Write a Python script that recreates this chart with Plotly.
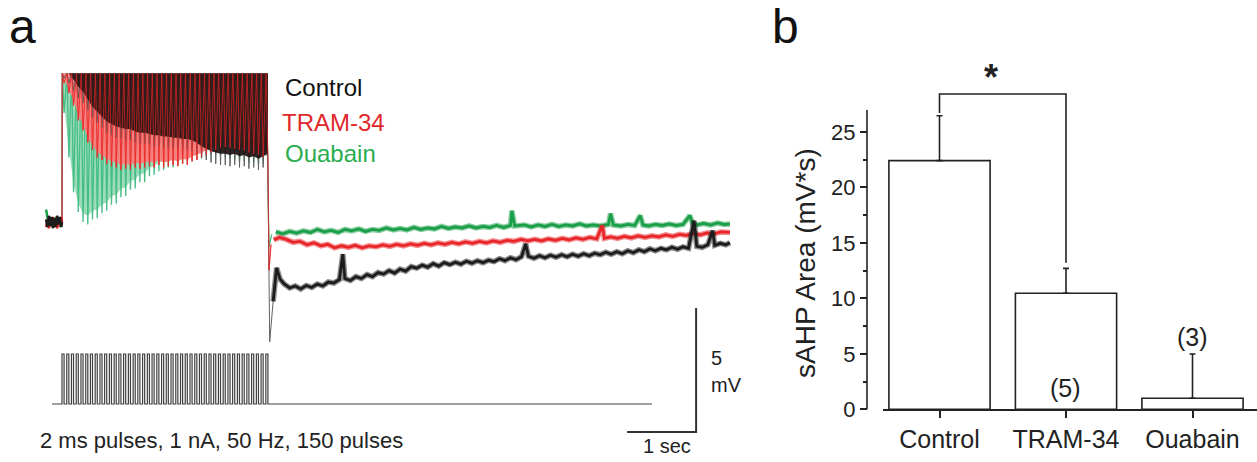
import plotly.graph_objects as go

# ======================= DATA =======================
# ---- panel a: stimulus (drawn pulses) ----
pulse_times_s = [0.000, 0.069, 0.137, 0.206, 0.275, 0.344, 0.412, 0.481, 0.550, 0.618,
                 0.687, 0.756, 0.824, 0.893, 0.962, 1.031, 1.099, 1.168, 1.237, 1.305,
                 1.374, 1.443, 1.511, 1.580, 1.649, 1.718, 1.786, 1.855, 1.924, 1.992,
                 2.061, 2.130, 2.198, 2.267, 2.336, 2.405, 2.473, 2.542, 2.611, 2.679,
                 2.748, 2.817, 2.885, 2.954]
pulse_width_s = 0.03
stim_amp_nA = 1.0
stim_start_s = -0.145
stim_end_s = 8.55
stim_off_s = 2.985
spike_peak_mV = 6.0          # spikes clipped at top of display

# ---- panel a: pre-stimulus baseline (mV) ----
pre_t = [-0.23, -0.21, -0.19, -0.17, -0.15, -0.13, -0.11, -0.09, -0.07, -0.05, -0.03, -0.01, 0.0]
pre_control = [0.10, -0.20, 0.25, -0.15, 0.20, -0.25, 0.15, -0.20, 0.25, -0.10, 0.20, -0.20, 0.0]
pre_tram = [-0.20, 0.10, -0.25, 0.15, -0.10, 0.20, -0.20, 0.05, -0.25, 0.10, -0.15, 0.20, 0.0]
pre_ouabain = [0.50, 0.15, -0.15, 0.20, -0.20, 0.10, -0.15, 0.20, -0.10, 0.15, -0.20, 0.10, 0.0]

# ---- panel a: trough after each drawn spike (mV) ----
trough_control = [5.8, 5.6, 5.3, 5.0, 4.8, 4.5, 4.2, 4.0, 3.8, 3.6, 3.5, 3.4, 3.35, 3.3, 3.3,
                  3.2, 3.15, 3.15, 3.1, 3.05, 3.05, 3.0, 3.0, 2.95, 2.95, 2.9, 2.9, 2.85, 2.75,
                  2.6, 2.5, 2.4, 2.35, 2.3, 2.3, 2.25, 2.3, 2.2, 2.25, 2.15, 2.2, 2.1, 2.2, 2.3]
trough_tram = [5.6, 5.2, 4.7, 4.1, 3.7, 3.2, 2.9, 2.6, 2.5, 2.35, 2.25, 2.2, 2.1, 2.15, 2.1,
               2.2, 2.15, 2.2, 2.25, 2.2, 2.3, 2.2, 2.25, 2.3, 2.25, 2.35, 2.3, 2.45, 2.5,
               2.6, 2.7, 2.8, 2.9, 3.0, 3.02, 2.98, 2.95, 2.9, 2.88, 2.8, 2.75, 2.7, 2.62, 2.55]
trough_ouabain = [4.4, 2.6, 1.2, 0.4, 0.0, -0.1, 0.1, 0.15, 0.35, 0.45, 0.7, 0.75, 1.0, 1.05, 1.3,
                  1.35, 1.6, 1.6, 1.85, 1.9, 2.05, 2.1, 2.2, 2.2, 2.3, 2.35, 2.4, 2.45, 2.5,
                  2.55, 2.6, 2.7, 2.75, 2.7, 2.6, 2.55, 2.5, 2.45, 2.45, 2.4, 2.4, 2.35, 2.35, 2.3]

# ---- panel a: post-stimulus sAHP (time s, mV) ----
post_control = [(3.00, -1.50), (3.01, -4.84), (3.06, -3.20), (3.11, -1.85), (3.16, -2.30), (3.22, -2.50),
                (3.30, -2.66), (3.38, -2.58), (3.46, -2.70), (3.54, -2.56), (3.62, -2.64), (3.70, -2.50),
                (3.78, -2.58), (3.86, -2.42), (3.94, -2.46), (4.02, -2.32), (4.07, -1.30), (4.10, -2.28),
                (4.18, -2.36), (4.26, -2.20), (4.34, -2.28), (4.42, -2.12), (4.50, -2.20), (4.58, -2.04),
                (4.66, -2.10), (4.74, -1.96), (4.82, -2.06), (4.90, -1.90), (4.98, -1.98), (5.06, -1.80),
                (5.14, -1.86), (5.22, -1.74), (5.30, -1.82), (5.38, -1.68), (5.46, -1.78), (5.54, -1.64),
                (5.62, -1.72), (5.70, -1.62), (5.78, -1.70), (5.86, -1.58), (5.94, -1.66), (6.02, -1.56),
                (6.10, -1.64), (6.18, -1.54), (6.26, -1.60), (6.34, -1.48), (6.42, -1.56), (6.50, -1.44),
                (6.58, -1.52), (6.66, -1.40), (6.72, -0.88), (6.76, -1.38), (6.84, -1.46), (6.92, -1.36),
                (7.00, -1.44), (7.08, -1.34), (7.16, -1.42), (7.24, -1.32), (7.32, -1.40), (7.40, -1.30),
                (7.48, -1.38), (7.56, -1.28), (7.64, -1.36), (7.72, -1.26), (7.80, -1.32), (7.88, -1.22),
                (7.96, -1.30), (8.04, -1.20), (8.12, -1.28), (8.20, -1.16), (8.28, -1.24), (8.36, -1.12),
                (8.44, -1.20), (8.52, -1.08), (8.60, -1.16), (8.68, -1.06), (8.76, -1.12), (8.84, -1.02),
                (8.92, -1.10), (9.00, -1.00), (9.08, -1.06), (9.16, 0.05), (9.20, -0.98), (9.28, -1.02),
                (9.36, -0.92), (9.43, -0.35), (9.46, -0.94), (9.54, -0.86), (9.62, -0.92), (9.68, -0.84)]
post_tram = [(3.00, -1.94), (3.03, -0.90), (3.07, -0.72), (3.15, -0.62), (3.25, -0.70), (3.35, -0.82),
             (3.45, -0.78), (3.55, -0.92), (3.65, -0.84), (3.75, -0.96), (3.85, -0.90), (3.95, -1.04),
             (4.05, -0.96), (4.15, -1.02), (4.25, -0.94), (4.35, -1.04), (4.45, -0.96), (4.55, -1.00),
             (4.65, -0.92), (4.75, -0.98), (4.85, -0.90), (4.95, -0.96), (5.05, -0.88), (5.15, -0.94),
             (5.25, -0.86), (5.35, -0.92), (5.45, -0.84), (5.55, -0.90), (5.65, -0.82), (5.75, -0.88),
             (5.85, -0.80), (5.95, -0.86), (6.05, -0.78), (6.15, -0.84), (6.25, -0.76), (6.35, -0.82),
             (6.45, -0.74), (6.55, -0.78), (6.65, -0.70), (6.75, -0.76), (6.85, -0.70), (6.95, -0.76),
             (7.05, -0.68), (7.15, -0.74), (7.25, -0.66), (7.35, -0.72), (7.45, -0.64), (7.55, -0.70),
             (7.65, -0.62), (7.75, -0.68), (7.83, -0.14), (7.86, -0.66), (7.95, -0.60), (8.05, -0.66),
             (8.15, -0.58), (8.25, -0.64), (8.35, -0.56), (8.45, -0.62), (8.55, -0.56), (8.65, -0.60),
             (8.75, -0.52), (8.85, -0.58), (8.95, -0.50), (9.05, -0.54), (9.15, -0.46), (9.25, -0.52),
             (9.35, -0.44), (9.45, -0.48), (9.55, -0.40), (9.68, -0.42)]
post_ouabain = [(3.00, -1.00), (3.04, -0.50), (3.10, -0.40), (3.20, -0.48), (3.30, -0.38), (3.40, -0.45),
                (3.50, -0.36), (3.60, -0.42), (3.70, -0.30), (3.80, -0.40), (3.90, -0.34), (4.00, -0.42),
                (4.10, -0.30), (4.20, -0.36), (4.30, -0.28), (4.40, -0.38), (4.50, -0.30), (4.60, -0.34),
                (4.70, -0.24), (4.80, -0.32), (4.90, -0.26), (5.00, -0.32), (5.10, -0.22), (5.20, -0.30),
                (5.30, -0.24), (5.40, -0.28), (5.50, -0.18), (5.60, -0.26), (5.70, -0.20), (5.80, -0.24),
                (5.90, -0.16), (6.00, -0.24), (6.10, -0.18), (6.20, -0.22), (6.30, -0.14), (6.40, -0.22),
                (6.50, -0.14), (6.52, 0.45), (6.56, -0.16), (6.70, -0.12), (6.80, -0.20), (6.90, -0.12),
                (7.00, -0.18), (7.10, -0.10), (7.20, -0.18), (7.30, -0.12), (7.40, -0.16), (7.50, -0.08),
                (7.60, -0.16), (7.70, -0.12), (7.80, -0.16), (7.92, -0.10), (7.95, 0.34), (7.99, -0.12),
                (8.10, -0.16), (8.20, -0.10), (8.30, -0.14), (8.38, 0.26), (8.42, -0.12), (8.50, -0.16),
                (8.60, -0.10), (8.70, -0.14), (8.80, -0.08), (8.90, -0.14), (9.00, -0.10), (9.10, 0.26),
                (9.14, -0.08), (9.20, -0.12), (9.30, -0.06), (9.40, -0.12), (9.50, -0.04), (9.60, -0.10),
                (9.68, -0.08)]

# scale bars
scale_t_s = 1.0
scale_v_mV = 5.0
scale_corner_t = 9.19
scale_corner_v = -8.47

# ---- panel b ----
groups = ["Control", "TRAM-34", "Ouabain"]
sahp_area = [22.4, 10.45, 1.0]
sahp_sem = [4.05, 2.25, 3.98]
sig_bracket_top = 28.4
y_ticks_b = [0, 5, 10, 15, 20, 25]
y_minor_b = [2.5, 7.5, 12.5, 17.5, 22.5]

# ======================= STYLE =======================
W, H = 1257, 462
FONT = "Liberation Sans, Arial, sans-serif"
TXT = "#222222"
C_BLACK = "#1c1c1c"
C_RED = "#e8262a"
C_GREEN = "#1a9e48"
dark_core_offset = 0.45   # dense (overlapping) part of the control spike region

fig = go.Figure()


def comb(pre_v, troughs, post):
    """sawtooth: fast rise to peak, fast fall to trough, ramp to next spike"""
    xs, ys = list(pre_t), list(pre_v)
    for t0, tr in zip(pulse_times_s, troughs):
        xs += [t0 + 0.004, t0 + 0.03]
        ys += [spike_peak_mV, tr]
    xs.append(stim_off_s)
    ys.append(troughs[-1])
    for t, v in post:
        if t > 3.06:
            break
        xs.append(t)
        ys.append(v)
    return xs, ys


def envelope(troughs, offset=0.0):
    tr = [min(v + offset, spike_peak_mV) for v in troughs]
    xs = [0.0] + [t + 0.03 for t in pulse_times_s] + [stim_off_s, stim_off_s, 0.0]
    ys = [spike_peak_mV] + tr + [tr[-1], spike_peak_mV, spike_peak_mV]
    return xs, ys


def add_line(xs, ys, color, width, opacity=1.0):
    fig.add_trace(go.Scatter(x=xs, y=ys, mode="lines", line=dict(color=color, width=width),
                             opacity=opacity, hoverinfo="skip", xaxis="x", yaxis="y"))


def add_fill(xs, ys, color):
    fig.add_trace(go.Scatter(x=xs, y=ys, mode="lines", fill="toself", fillcolor=color,
                             line=dict(width=0), hoverinfo="skip", xaxis="x", yaxis="y"))


conds = {
    "ouabain": (pre_ouabain, trough_ouabain, post_ouabain, C_GREEN),
    "control": (pre_control, trough_control, post_control, C_BLACK),
    "tram": (pre_tram, trough_tram, post_tram, C_RED),
}

# spike region
ex, ey = envelope(trough_ouabain, 0.35)
add_fill(ex, ey, "#9ddcbb")
cx, cy = comb(pre_ouabain, trough_ouabain, post_ouabain)
add_line(cx, cy, "#45be84", 1.3)
ex, ey = envelope(trough_tram, 0.2)
add_fill(ex, ey, "#f4817e")
cx, cy = comb(pre_tram, trough_tram, post_tram)
add_line(cx, cy, "#ef5a57", 1.0)
cx, cy = comb(pre_control, trough_control, post_control)
add_line(cx, cy, "#606060", 1.0)
ex, ey = envelope(trough_control, dark_core_offset)
add_fill(ex, ey, "rgba(32,20,20,0.92)")
cx, cy = comb(pre_tram, trough_tram, post_tram)
add_line(cx, cy, "rgba(235,35,35,0.7)", 1.0)

# pre-stim noisy baseline
for pv, col in [(pre_ouabain, C_GREEN), (pre_tram, C_RED), (pre_control, C_BLACK)]:
    add_line(pre_t, pv, col, 2.5)

# post-stim noisy traces: faint band under a core line
for key in ["ouabain", "tram", "control"]:
    _, _, post, col = conds[key]
    pts = [p for p in post if p[0] >= 3.06]
    px_ = [p[0] for p in pts]
    py_ = [p[1] for p in pts]
    add_line(px_, py_, col, 5.5, opacity=0.5)
    add_line(px_, py_, col, 2.8)

# stimulus trace
sx, sy = [stim_start_s], [0.0]
for t0 in pulse_times_s:
    sx += [t0, t0, t0 + pulse_width_s, t0 + pulse_width_s]
    sy += [0.0, stim_amp_nA, stim_amp_nA, 0.0]
sx.append(stim_end_s)
sy.append(0.0)
fig.add_trace(go.Scatter(x=sx, y=sy, mode="lines", line=dict(color="#404040", width=1.2),
                         hoverinfo="skip", xaxis="x", yaxis="y3"))

# scale bars
fig.add_trace(go.Scatter(x=[scale_corner_t - scale_t_s, scale_corner_t, scale_corner_t],
                         y=[scale_corner_v, scale_corner_v, scale_corner_v + scale_v_mV],
                         mode="lines", line=dict(color="#333333", width=2),
                         hoverinfo="skip", xaxis="x", yaxis="y"))

# ---- panel b ----
xb = list(range(len(groups)))
fig.add_trace(go.Bar(x=xb, y=sahp_area, width=0.8,
                     marker=dict(color="white", line=dict(color=TXT, width=1.6)),
                     error_y=dict(type="data", symmetric=False, array=sahp_sem,
                                  arrayminus=[0] * len(groups), color=TXT, thickness=1.6, width=3),
                     xaxis="x2", yaxis="y2", hoverinfo="skip"))
fig.add_trace(go.Scatter(x=[0, 0, 1, 1],
                         y=[sahp_area[0] + sahp_sem[0] + 0.25, sig_bracket_top, sig_bracket_top,
                            sahp_area[1] + sahp_sem[1] + 0.5],
                         mode="lines", line=dict(color=TXT, width=1.6),
                         xaxis="x2", yaxis="y2", hoverinfo="skip"))

# ======================= LAYOUT =======================
px_per_s = 69.0
px_per_mV = 24.8
x0_px = 62.0
base_py = 222.0
stim_base_py = 404.0
px_per_nA = 50.0
left_w = 760.0

b_x0 = 883.0
b_yaxis_px = 867.0
b_base_py = 409.3
px_per_unit = 11.1
b_center0 = 939.5
b_spacing = 126.5
b_top_py = 45.0
b_axis_top_py = 110.0


def ann(text, px, py, size, color=TXT, xanchor="center", angle=0, bold=False):
    if bold:
        text = "<b>" + text + "</b>"
    fig.add_annotation(text=text, x=px / W, y=1 - py / H, xref="paper", yref="paper",
                       showarrow=False, xanchor=xanchor, yanchor="middle", textangle=angle,
                       font=dict(family=FONT, size=size, color=color))


fig.update_layout(
    width=W, height=H, margin=dict(l=0, r=0, t=0, b=0, pad=0, autoexpand=False),
    paper_bgcolor="white", plot_bgcolor="white", showlegend=False,
    xaxis=dict(domain=[0, left_w / W], range=[-x0_px / px_per_s, (left_w - x0_px) / px_per_s],
               visible=False, anchor="y", automargin=False),
    yaxis=dict(domain=[0, 1], range=[(base_py - H) / px_per_mV, base_py / px_per_mV],
               visible=False, anchor="x", automargin=False),
    yaxis3=dict(domain=[0, 1], overlaying="y", anchor="x", automargin=False,
                range=[(stim_base_py - H) / px_per_nA, stim_base_py / px_per_nA], visible=False),
    xaxis2=dict(domain=[b_x0 / W, 1.0], anchor="y2", automargin=False,
                range=[-(b_center0 - b_x0) / b_spacing, (W - b_center0) / b_spacing],
                tickvals=xb, ticktext=groups, ticks="outside", ticklen=7, tickwidth=1.6,
                tickcolor=TXT, showline=True, linewidth=1.6, linecolor=TXT, showgrid=False,
                zeroline=False, tickfont=dict(family=FONT, size=25, color=TXT),
                ticklabelstandoff=0),
    yaxis2=dict(domain=[(H - b_base_py) / H, (H - b_top_py) / H], anchor="free",
                position=b_yaxis_px / W, automargin=False,
                range=[0, (b_base_py - b_top_py) / px_per_unit],
                tickvals=y_ticks_b, ticks="outside", ticklen=7, tickwidth=1.6, tickcolor=TXT,
                showline=False, showgrid=False, zeroline=False,
                tickfont=dict(family=FONT, size=22, color=TXT),
                minor=dict(tickvals=y_minor_b, ticks="outside", ticklen=4, tickwidth=1.6,
                           tickcolor=TXT, showgrid=False)),
)

# y axis line of panel b (stops at top of axis, bracket drawn above)
fig.add_shape(type="line", xref="paper", yref="paper",
              x0=b_yaxis_px / W, x1=b_yaxis_px / W,
              y0=(H - b_base_py) / H, y1=(H - b_axis_top_py) / H,
              line=dict(color=TXT, width=1.6))

# ---- texts ----
ann("a", 22, 27, 48, "#111111")
ann("b", 785, 27, 48, "#111111")
ann("Control", 283, 87, 24, "#111111", xanchor="left")
ann("TRAM-34", 280, 122, 24, "#e0282c", xanchor="left")
ann("Ouabain", 283, 153, 24, "#2aac50", xanchor="left")
ann("2 ms pulses, 1 nA, 50 Hz, 150 pulses", 38, 440, 22, xanchor="left")
ann("5", 709, 358, 20, xanchor="left")
ann("mV", 709, 385, 20, xanchor="left")
ann("1 sec", 667, 446, 20)
ann("sAHP Area (mV*s)", 805, 263, 28, angle=-90)
ann("*", 991, 78, 36, bold=True)
ann("(5)", 1065, 388, 25)
ann("(3)", 1192, 337, 25)

fig.write_html("out.html")
